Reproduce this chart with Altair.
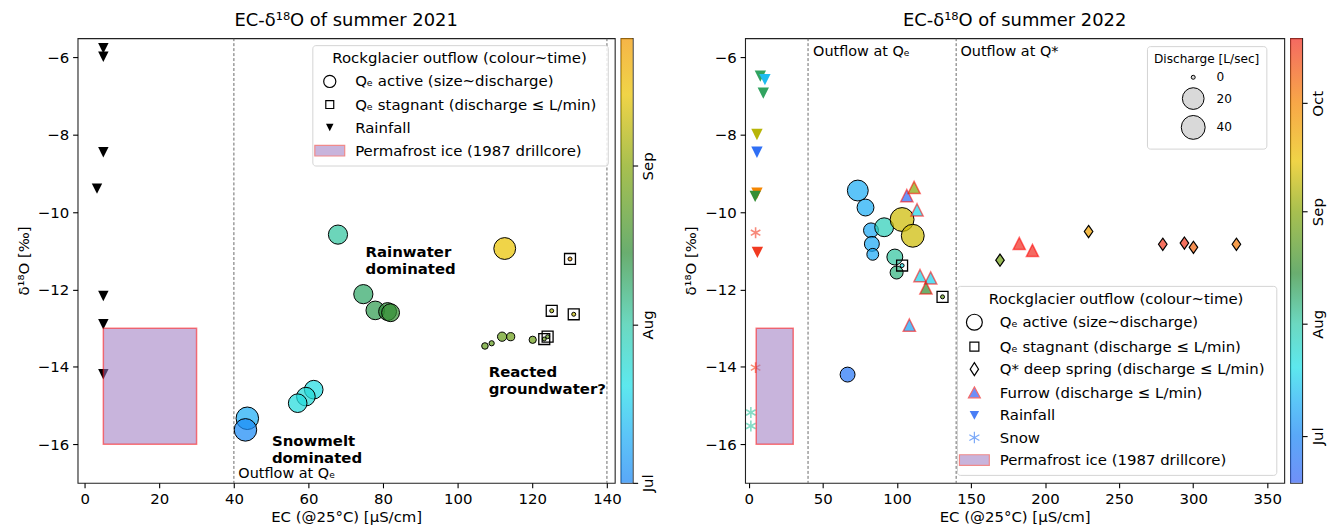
import json

import altair as alt
import pandas as pd

FONT = "DejaVu Sans"
FS = 15            # tick labels, axis titles, legend text
FS_TITLE = 18
FS_SMALL = 12.2

PLOT_H = 447
LEFT_W = 540
RIGHT_W = 542
CBAR_W = 12
GAP = 6
SPACER_W = 101

EC_TITLE = "EC (@25°C) [µS/cm]"
D18O_TITLE = "δ¹⁸O [‰]"
D18O_TICKS = [-16, -14, -12, -10, -8, -6]

# ---------------- seasonal colour map (month-day -> colour) ----------------
cmap_days = ["06-18", "07-01", "07-10", "07-20", "08-01", "08-15", "09-01", "09-15", "10-01", "10-19"]
cmap_colors = ["#3865f5", "#1a86f5", "#1dadf5", "#1fdfe7", "#33c9a8", "#308e38",
               "#86a70c", "#eac301", "#f58601", "#f03025"]
month_names = ["Jul", "Aug", "Sep", "Oct"]
month_starts = ["07-01", "08-01", "09-01", "10-01"]

# ---------------- summer 2021 ----------------
q21_ec = [67.9, 112.6, 74.7, 77.9, 81.2, 82.0, 61.4, 59.3, 57.1, 43.6, 43.1,
          107.3, 109.1, 111.9, 114.2, 120.1, 130.1, 125.2, 131.1, 123.2, 124.1]
q21_d18o = [-10.58, -10.94, -12.12, -12.54, -12.57, -12.60, -14.59, -14.77, -14.94, -15.33, -15.63,
            -13.46, -13.39, -13.22, -13.22, -13.30, -11.21, -12.55, -12.64, -13.28, -13.22]
q21_discharge = [9.6, 21, 9.6, 8.2, 6.7, 6.7, 8.2, 8.2, 8.2, 26, 26,
                 0.2, 0.08, 0.6, 0.4, 0.28, 0, 0, 0, 0, 0]
q21_date = ["2021-08-02", "2021-09-15", "2021-08-09", "2021-08-12", "2021-08-15", "2021-08-16",
            "2021-07-21", "2021-07-23", "2021-07-22", "2021-07-10", "2021-07-02",
            "2021-08-25", "2021-08-25", "2021-08-26", "2021-08-27", "2021-08-27",
            "2021-09-26", "2021-09-06", "2021-09-10", "2021-08-26", "2021-08-24"]
q21_stagnant = [False] * 16 + [True] * 5

rain21_ec = [5, 5, 5, 3.3, 5, 5, 5]
rain21_d18o = [-5.76, -5.98, -8.45, -9.39, -12.17, -12.90, -14.19]

note21_text = ["Rainwater\ndominated", "Snowmelt\ndominated", "Reacted\ngroundwater?"]
note21_ec = [75.3, 50.2, 108.3]
note21_d18o = [-11.04, -15.93, -14.14]

flow_ec = [40, 140]
flow21_text = ["Outflow at Qₑ"]
flow21_ec = [41.2]
flow21_d18o = [-16.77]

ice_ec = [5, 30]
ice_d18o = [-16, -13]

# ---------------- summer 2022 ----------------
q22_ec = [73.6, 78.8, 82.5, 83.1, 83.7, 91.4, 103.5, 110.7, 98.6, 99.8, 66.7, 103.5, 130.8]
q22_d18o = [-9.44, -9.88, -10.47, -10.82, -11.09, -10.39, -10.19, -10.61, -11.16, -11.56, -14.20,
            -11.38, -12.19]
q22_discharge = [15.7, 5.1, 3.0, 3.0, 1.3, 8.8, 40, 29, 3.9, 1.8, 3.0, 0, 0]
q22_date = ["2022-07-10", "2022-07-10", "2022-07-09", "2022-07-09", "2022-07-09", "2022-07-29",
            "2022-09-11", "2022-09-11", "2022-08-02", "2022-08-06", "2022-06-25",
            "2022-07-20", "2022-08-26"]
q22_stagnant = [False] * 11 + [True] * 2

furrow_ec = [106.7, 111.6, 113.6, 115.6, 122.8, 119.6, 108.4, 182.6, 191.5]
furrow_d18o = [-9.57, -9.36, -9.94, -11.64, -11.70, -11.96, -12.92, -10.81, -10.99]
furrow_date = ["2022-06-21", "2022-09-01", "2022-07-18", "2022-07-18", "2022-07-17", "2022-08-16",
               "2022-07-08", "2022-10-19", "2022-10-19"]

spring_ec = [169.6, 229.4, 279.5, 294.1, 300.2, 329.2]
spring_d18o = [-11.24, -10.50, -10.83, -10.80, -10.91, -10.83]
spring_date = ["2022-08-28", "2022-09-24", "2022-10-17", "2022-10-17", "2022-10-08", "2022-10-04"]

rain22_ec = [7.8, 10.9, 9.8, 5.5, 5.5, 5.5, 4.3, 5.8]
rain22_d18o = [-6.48, -6.57, -6.92, -7.99, -8.45, -9.51, -9.59, -11.04]
rain22_date = ["2022-08-10", "2022-07-13", "2022-08-10", "2022-09-08", "2022-06-22", "2022-10-01",
               "2022-08-16", "2022-10-17"]

snow22_ec = [4.6, 4.6, 1.4, 1.4]
snow22_d18o = [-10.53, -14.02, -15.18, -15.53]
snow22_date = ["2022-10-17", "2022-10-15", "2022-08-02", "2022-08-02"]

flow22_text = ["Outflow at Qₑ", "Outflow at Q*"]
flow22_ec = [43.4, 142.9]
flow22_d18o = [-5.85, -5.85]

# ---------------- marker shapes (unit box -1..1) ----------------
TRI_DOWN = "M-1,-1L1,-1L0,1Z"
TRI_UP = "M0,-1L1,1L-1,1Z"
THIN_DIAMOND = "M0,-1L0.7,0L0,1L-0.7,0Z"
ASTERISK = "M0,-1L0,1M-0.87,-0.5L0.87,0.5M-0.87,0.5L0.87,-0.5"


def circle_path(r):
    return f"M{r},0A{r},{r} 0 1,1 {-r},0A{r},{r} 0 1,1 {r},0Z"


def box_path(w, h):
    return f"M{-w},{-h}L{w},{-h}L{w},{h}L{-w},{h}Z"


def day_of_year(md):
    return int(pd.Timestamp("2021-" + md).dayofyear)


cmap_doy = [day_of_year(d) for d in cmap_days]
month_doy = [day_of_year(d) for d in month_starts]

colour_scale = alt.Scale(domain=cmap_doy, range=cmap_colors, interpolate="rgb")
size_scale = alt.Scale(type="symlog", domain=[0, 40], range=[16, 576])
d18o_scale = alt.Scale(domain=[-17, -5.5], nice=False, zero=False)


def frame(**cols):
    df = pd.DataFrame(cols)
    if "date" in df:
        df["doy"] = pd.to_datetime(df["date"]).dt.dayofyear
    return df


def hex_rgb(h):
    return [int(h[i:i + 2], 16) for i in (1, 3, 5)]


def colour_at(d):
    if d <= cmap_doy[0]:
        return cmap_colors[0]
    for (d0, c0), (d1, c1) in zip(zip(cmap_doy, cmap_colors), zip(cmap_doy[1:], cmap_colors[1:])):
        if d0 <= d <= d1:
            t = (d - d0) / (d1 - d0)
            a, b = hex_rgb(c0), hex_rgb(c1)
            return "#" + "".join(f"{round(x + (y - x) * t):02x}" for x, y in zip(a, b))
    return cmap_colors[-1]


def by_key(keys, values):
    expr = json.dumps(values[-1], ensure_ascii=False)
    for k, v in reversed(list(zip(keys[:-1], values[:-1]))):
        expr = f"datum.value === {json.dumps(k)} ? {json.dumps(v, ensure_ascii=False)} : {expr}"
    return expr


def x_enc(field, domain, ticks):
    return alt.X(f"{field}:Q", scale=alt.Scale(domain=domain, nice=False, zero=False),
                 axis=alt.Axis(values=ticks, title=EC_TITLE))


def y_enc(field):
    return alt.Y(f"{field}:Q", scale=d18o_scale, axis=alt.Axis(values=D18O_TICKS, title=D18O_TITLE))


def legend_layer(X, keys, labels, paths, fills, strokes, orient, offset, row_pad):
    """Legend carrier: one key per row, placed outside the clipped plot area."""
    leg = alt.Legend(
        title="Rockglacier outflow (colour~time)", orient=orient, offset=offset,
        titleAnchor="middle", titleFont=FONT, titleFontSize=FS, titleFontWeight="normal",
        titleColor="black", titleLimit=600, titlePadding=4,
        labelFont=FONT, labelFontSize=FS, labelColor="black", labelLimit=600, labelOffset=14,
        labelExpr=by_key(keys, labels),
        symbolSize=441, symbolStrokeWidth=1.2, symbolOpacity=1, rowPadding=row_pad, padding=6,
        strokeColor="#d4d4d4", fillColor="rgba(255,255,255,0.85)", cornerRadius=3,
    )
    n = len(keys)
    df = frame(kind=keys, ec=[-1000] * n, d18o=[-1000] * n)
    return alt.Chart(df).mark_point(filled=True, opacity=1, clip=True, strokeWidth=1.2).encode(
        x=X("ec"), y=y_enc("d18o"),
        shape=alt.Shape("kind:N", scale=alt.Scale(domain=keys, range=paths), legend=leg),
        fill=alt.Fill("kind:N", scale=alt.Scale(domain=keys, range=fills), legend=leg),
        stroke=alt.Stroke("kind:N", scale=alt.Scale(domain=keys, range=strokes), legend=leg),
    )


def colourbar(start, end):
    d0, d1 = day_of_year(start), day_of_year(end)
    stops = [(d0, colour_at(d0))]
    stops += [(d, c) for d, c in zip(cmap_doy, cmap_colors) if d0 < d < d1]
    stops += [(d1, colour_at(d1))]
    gradient = alt.LinearGradient(
        gradient="linear", x1=0, x2=0, y1=1, y2=0,
        stops=[alt.GradientStop(color=c, offset=(d - d0) / (d1 - d0)) for d, c in stops],
    )
    ticks = [d for d in month_doy if d0 <= d <= d1]
    span = frame(lo=[d0], hi=[d1])
    return alt.Chart(span).mark_rect(fill=gradient, fillOpacity=0.72).encode(
        x=alt.value(0), x2=alt.value(CBAR_W),
        y=alt.Y("lo:Q", scale=alt.Scale(domain=[d0, d1], nice=False, zero=False),
                axis=alt.Axis(orient="right", values=ticks, title=None,
                              labelExpr=by_key(month_doy, month_names),
                              labelAngle=270, labelAlign="center", labelBaseline="top",
                              labelPadding=3, tickSize=5)),
        y2="hi:Q",
    ).properties(width=CBAR_W, height=PLOT_H)


# legend symbol outlines, sized inside a 21 px symbol box (10.5 px per unit)
ICE_KEY = box_path(1.43, 0.51)

# ---------------- panel: summer 2021 ----------------
dom21, ticks21 = [-1.9, 142.1], list(range(0, 141, 20))
X21 = lambda f: x_enc(f, dom21, ticks21)

q21 = frame(ec=q21_ec, d18o=q21_d18o, q=q21_discharge, date=q21_date, stagnant=q21_stagnant)

rules21 = alt.Chart(frame(ec=flow_ec)).mark_rule(strokeDash=[3, 2], strokeWidth=0.8, color="#444").encode(x=X21("ec"))
rain21 = alt.Chart(frame(ec=rain21_ec, d18o=rain21_d18o)).mark_point(
    shape=TRI_DOWN, filled=True, color="black", opacity=1, size=110, strokeWidth=0
).encode(x=X21("ec"), y=y_enc("d18o"))
ice21 = alt.Chart(frame(ec0=[ice_ec[0]], ec1=[ice_ec[1]], lo=[ice_d18o[0]], hi=[ice_d18o[1]])).mark_rect(
    fill="#9b77bf", fillOpacity=0.55, stroke="red", strokeOpacity=0.5, strokeWidth=1.5
).encode(x=X21("ec0"), x2="ec1:Q", y=y_enc("lo"), y2="hi:Q")
active21 = alt.Chart(q21).mark_point(
    shape="circle", filled=True, opacity=1, fillOpacity=0.72, stroke="black", strokeWidth=1
).encode(
    x=X21("ec"), y=y_enc("d18o"),
    color=alt.Color("doy:Q", scale=colour_scale, legend=None),
    size=alt.Size("q:Q", scale=size_scale, legend=None),
)
stag21 = alt.Chart(q21[q21["stagnant"]]).mark_point(
    shape="square", filled=False, color="black", opacity=1, size=121, strokeWidth=1.3
).encode(x=X21("ec"), y=y_enc("d18o"))
notes21 = alt.Chart(frame(text=note21_text, ec=note21_ec, d18o=note21_d18o)).mark_text(
    align="left", baseline="middle", font=FONT, fontSize=FS, fontWeight="bold", lineBreak="\n",
    lineHeight=17, color="black"
).encode(x=X21("ec"), y=y_enc("d18o"), text="text:N")
flowtxt21 = alt.Chart(frame(text=flow21_text, ec=flow21_ec, d18o=flow21_d18o)).mark_text(
    align="left", baseline="middle", font=FONT, fontSize=14.5, color="black"
).encode(x=X21("ec"), y=y_enc("d18o"), text="text:N")
key21 = legend_layer(
    X21,
    ["active", "stagnant", "rain", "ice"],
    ["Qₑ active (size~discharge)", "Qₑ stagnant (discharge  ≤ L/min)", "Rainfall",
     "Permafrost ice (1987 drillcore)"],
    [circle_path(0.58), box_path(0.38, 0.38), "M-0.36,-0.36L0.36,-0.36L0,0.36Z", ICE_KEY],
    ["transparent", "transparent", "black", "#c8b4dc"],
    ["black", "black", "transparent", "#f08a8a"],
    "top-right", 7, 3.2,
)

panel21 = alt.layer(rules21, rain21, ice21, active21, stag21, notes21, flowtxt21, key21).properties(
    width=LEFT_W, height=PLOT_H,
    title=alt.TitleParams("EC-δ¹⁸O of summer 2021", font=FONT, fontSize=FS_TITLE,
                          fontWeight="normal", color="black", offset=8, anchor="middle"),
)

# ---------------- panel: summer 2022 ----------------
dom22, ticks22 = [-2.5, 361.5], list(range(0, 351, 50))
X22 = lambda f: x_enc(f, dom22, ticks22)

q22 = frame(ec=q22_ec, d18o=q22_d18o, q=q22_discharge, date=q22_date, stagnant=q22_stagnant)
size_legend22 = alt.Legend(
    title="Discharge [L/sec]", orient="none", legendX=404, legendY=8, direction="vertical",
    values=[0, 20, 40], titleAnchor="middle", titleFont=FONT, titleFontSize=FS_SMALL,
    titleFontWeight="normal", titleColor="black", titlePadding=6,
    labelFont=FONT, labelFontSize=FS_SMALL, labelColor="black", labelOffset=11,
    symbolFillColor="#d9d9d9", symbolStrokeColor="black", symbolStrokeWidth=1, symbolOpacity=1,
    symbolType="circle",
    rowPadding=1, padding=7, strokeColor="#d4d4d4", fillColor="white", cornerRadius=3,
)

rules22 = alt.Chart(frame(ec=flow_ec)).mark_rule(strokeDash=[3, 2], strokeWidth=0.8, color="#444").encode(x=X22("ec"))
rain22 = alt.Chart(frame(ec=rain22_ec, d18o=rain22_d18o, date=rain22_date)).mark_point(
    shape=TRI_DOWN, filled=True, opacity=1, size=130, strokeWidth=0
).encode(x=X22("ec"), y=y_enc("d18o"), color=alt.Color("doy:Q", scale=colour_scale, legend=None))
snow22 = alt.Chart(frame(ec=snow22_ec, d18o=snow22_d18o, date=snow22_date)).mark_point(
    shape=ASTERISK, filled=False, opacity=1, strokeOpacity=0.6, size=121, strokeWidth=1.6
).encode(x=X22("ec"), y=y_enc("d18o"), color=alt.Color("doy:Q", scale=colour_scale, legend=None))
ice22 = alt.Chart(frame(ec0=[ice_ec[0]], ec1=[ice_ec[1]], lo=[ice_d18o[0]], hi=[ice_d18o[1]])).mark_rect(
    fill="#9b77bf", fillOpacity=0.55, stroke="red", strokeOpacity=0.5, strokeWidth=1.5
).encode(x=X22("ec0"), x2="ec1:Q", y=y_enc("lo"), y2="hi:Q")
active22 = alt.Chart(q22).mark_point(
    shape="circle", filled=True, opacity=1, fillOpacity=0.72, stroke="black", strokeWidth=1
).encode(
    x=X22("ec"), y=y_enc("d18o"),
    color=alt.Color("doy:Q", scale=colour_scale, legend=None),
    size=alt.Size("q:Q", scale=size_scale, legend=size_legend22),
)
stag22 = alt.Chart(q22[q22["stagnant"]]).mark_point(
    shape="square", filled=False, color="black", opacity=1, size=121, strokeWidth=1.3
).encode(x=X22("ec"), y=y_enc("d18o"))
furrow22 = alt.Chart(frame(ec=furrow_ec, d18o=furrow_d18o, date=furrow_date)).mark_point(
    shape=TRI_UP, filled=True, opacity=1, fillOpacity=0.72, stroke="red", strokeOpacity=0.55,
    strokeWidth=1.5, size=150
).encode(x=X22("ec"), y=y_enc("d18o"), color=alt.Color("doy:Q", scale=colour_scale, legend=None))
spring22 = alt.Chart(frame(ec=spring_ec, d18o=spring_d18o, date=spring_date)).mark_point(
    shape=THIN_DIAMOND, filled=True, opacity=1, fillOpacity=0.72, stroke="black", strokeWidth=1.2, size=150
).encode(x=X22("ec"), y=y_enc("d18o"), color=alt.Color("doy:Q", scale=colour_scale, legend=None))
flowtxt22 = alt.Chart(frame(text=flow22_text, ec=flow22_ec, d18o=flow22_d18o)).mark_text(
    align="left", baseline="middle", font=FONT, fontSize=14.5, color="black"
).encode(x=X22("ec"), y=y_enc("d18o"), text="text:N")
key22 = legend_layer(
    X22,
    ["active", "stagnant", "spring", "furrow", "rain", "snow", "ice"],
    ["Qₑ active (size~discharge)", "Qₑ stagnant (discharge  ≤ L/min)",
     "Q* deep spring (discharge  ≤ L/min)", "Furrow (discharge  ≤ L/min)", "Rainfall", "Snow",
     "Permafrost ice (1987 drillcore)"],
    [circle_path(0.76), box_path(0.43, 0.43), "M0,-0.62L0.4,0L0,0.62L-0.4,0Z",
     "M0,-0.55L0.57,0.5L-0.57,0.5Z", "M-0.45,-0.4L0.45,-0.4L0,0.45Z",
     "M0,-0.55L0,0.55M-0.48,-0.28L0.48,0.28M-0.48,0.28L0.48,-0.28", ICE_KEY],
    ["transparent", "transparent", "transparent", "#6f8ef7", "#4a7ef5", "transparent", "#c8b4dc"],
    ["black", "black", "black", "#f46a6a", "transparent", "#7aa8f8", "#f08a8a"],
    "bottom-right", 8, 2.6,
)

panel22 = alt.layer(rules22, rain22, snow22, ice22, active22, stag22, furrow22, spring22, flowtxt22,
                    key22).properties(
    width=RIGHT_W, height=PLOT_H,
    title=alt.TitleParams("EC-δ¹⁸O of summer 2022", font=FONT, fontSize=FS_TITLE,
                          fontWeight="normal", color="black", offset=8, anchor="middle"),
)

spacer = alt.Chart(frame(v=[0])).mark_point(opacity=0).encode(
    x=alt.value(0), y=alt.value(0)
).properties(width=SPACER_W, height=PLOT_H, view=alt.ViewBackground(stroke="transparent"))

chart = alt.hconcat(
    panel21, colourbar("07-01", "09-26"), spacer, panel22, colourbar("06-18", "10-19"),
    spacing=GAP, bounds="flush",
).resolve_scale(
    color="independent", size="independent", shape="independent", fill="independent",
    stroke="independent",
).resolve_legend(
    size="independent", shape="independent", fill="independent", stroke="independent",
).properties(
    padding={"left": 15, "top": 10, "right": 5, "bottom": 0},
).configure(font=FONT).configure_view(
    stroke="#222", strokeWidth=1.1
).configure_axis(
    labelFont=FONT, labelFontSize=FS, labelColor="black", titleFont=FONT, titleFontSize=FS,
    titleFontWeight="normal", titleColor="black", tickColor="black", tickSize=5, tickWidth=1.1,
    labelPadding=4, grid=False, domain=False,
).configure_axisX(labelFlush=False, titlePadding=3).configure_axisY(titlePadding=6)

chart.save("out.html", embed_options={"renderer": "svg", "actions": False})
